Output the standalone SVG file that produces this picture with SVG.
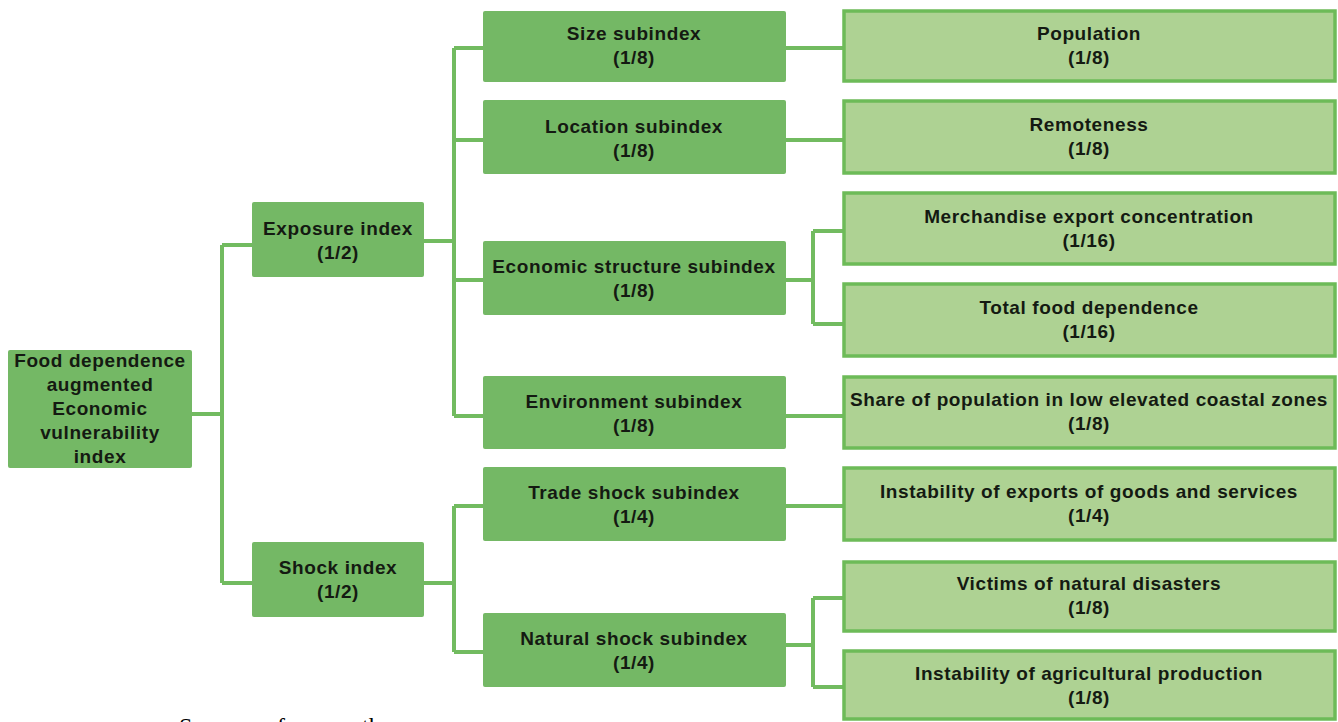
<svg xmlns="http://www.w3.org/2000/svg" width="1338" height="722" viewBox="0 0 1338 722">
<style>
.dk{fill:#74b865;}
.lt{fill:#aed293;stroke:#6dbb58;stroke-width:3.5;}
.t{font-family:"Liberation Sans",Arial,sans-serif;font-weight:bold;font-size:19px;letter-spacing:0.6px;fill:#141a12;text-anchor:middle;}
.c{fill:none;stroke:#72bb60;stroke-width:4;}
.src{font-family:"Liberation Serif","Times New Roman",serif;font-size:24px;fill:#000;}
</style>
<rect width="1338" height="722" fill="#ffffff"/>
<g id="connectors">
<path class="c" d="M191 414H222M222 245V583M222 245H253M222 583H253"/>
<path class="c" d="M424 241H454M454 48V416M454 48H483M454 140H483M454 280H483M454 416H483"/>
<path class="c" d="M424 583H454M454 506V652M454 506H483M454 652H483"/>
<path class="c" d="M786 48H843M786 140H843M786 416H843M786 506H843"/>
<path class="c" d="M786 280H813M813 231V324M813 231H843M813 324H843"/>
<path class="c" d="M786 645H813M813 598V687M813 598H843M813 687H843"/>
</g>
<g id="root"><rect class="dk" x="8" y="350" width="184" height="118" rx="2"/>
<text class="t" x="100"><tspan x="100" y="367">Food dependence</tspan><tspan x="100" y="391">augmented</tspan><tspan x="100" y="415">Economic</tspan><tspan x="100" y="439">vulnerability</tspan><tspan x="100" y="463">index</tspan></text></g>
<g id="exposure"><rect class="dk" x="252" y="202" width="172" height="75" rx="2"/>
<text class="t"><tspan x="338" y="235">Exposure index</tspan><tspan x="338" y="259">(1/2)</tspan></text></g>
<g id="shock"><rect class="dk" x="252" y="542" width="172" height="75" rx="2"/>
<text class="t"><tspan x="338" y="574">Shock index</tspan><tspan x="338" y="598">(1/2)</tspan></text></g>
<g id="size"><rect class="dk" x="483" y="11" width="303" height="71" rx="2"/>
<text class="t"><tspan x="634" y="40">Size subindex</tspan><tspan x="634" y="64">(1/8)</tspan></text></g>
<g id="location"><rect class="dk" x="483" y="100" width="303" height="74" rx="2"/>
<text class="t"><tspan x="634" y="133">Location subindex</tspan><tspan x="634" y="157">(1/8)</tspan></text></g>
<g id="economic"><rect class="dk" x="483" y="241" width="303" height="74" rx="2"/>
<text class="t"><tspan x="634" y="273">Economic structure subindex</tspan><tspan x="634" y="297">(1/8)</tspan></text></g>
<g id="environment"><rect class="dk" x="483" y="376" width="303" height="73" rx="2"/>
<text class="t"><tspan x="634" y="408">Environment subindex</tspan><tspan x="634" y="432">(1/8)</tspan></text></g>
<g id="trade"><rect class="dk" x="483" y="467" width="303" height="74" rx="2"/>
<text class="t"><tspan x="634" y="499">Trade shock subindex</tspan><tspan x="634" y="523">(1/4)</tspan></text></g>
<g id="natural"><rect class="dk" x="483" y="613" width="303" height="74" rx="2"/>
<text class="t"><tspan x="634" y="645">Natural shock subindex</tspan><tspan x="634" y="669">(1/4)</tspan></text></g>
<g id="population"><rect class="lt" x="844" y="11" width="491" height="70"/>
<text class="t"><tspan x="1089" y="40">Population</tspan><tspan x="1089" y="64">(1/8)</tspan></text></g>
<g id="remoteness"><rect class="lt" x="844" y="101" width="491" height="72"/>
<text class="t"><tspan x="1089" y="131">Remoteness</tspan><tspan x="1089" y="155">(1/8)</tspan></text></g>
<g id="merch"><rect class="lt" x="844" y="193" width="491" height="71"/>
<text class="t"><tspan x="1089" y="223">Merchandise export concentration</tspan><tspan x="1089" y="247">(1/16)</tspan></text></g>
<g id="food"><rect class="lt" x="844" y="284" width="491" height="72"/>
<text class="t"><tspan x="1089" y="314">Total food dependence</tspan><tspan x="1089" y="338">(1/16)</tspan></text></g>
<g id="coastal"><rect class="lt" x="844" y="377" width="491" height="71"/>
<text class="t"><tspan x="1089" y="406">Share of population in low elevated coastal zones</tspan><tspan x="1089" y="430">(1/8)</tspan></text></g>
<g id="exports"><rect class="lt" x="844" y="468" width="491" height="72"/>
<text class="t"><tspan x="1089" y="498">Instability of exports of goods and services</tspan><tspan x="1089" y="522">(1/4)</tspan></text></g>
<g id="victims"><rect class="lt" x="844" y="562" width="491" height="69"/>
<text class="t"><tspan x="1089" y="590">Victims of natural disasters</tspan><tspan x="1089" y="614">(1/8)</tspan></text></g>
<g id="agri"><rect class="lt" x="844" y="651" width="491" height="68"/>
<text class="t"><tspan x="1089" y="680">Instability of agricultural production</tspan><tspan x="1089" y="704">(1/8)</tspan></text></g>
<text class="src" y="734"><tspan x="179">Source:</tspan><tspan x="277">from</tspan><tspan x="362">the</tspan></text>
</svg>
